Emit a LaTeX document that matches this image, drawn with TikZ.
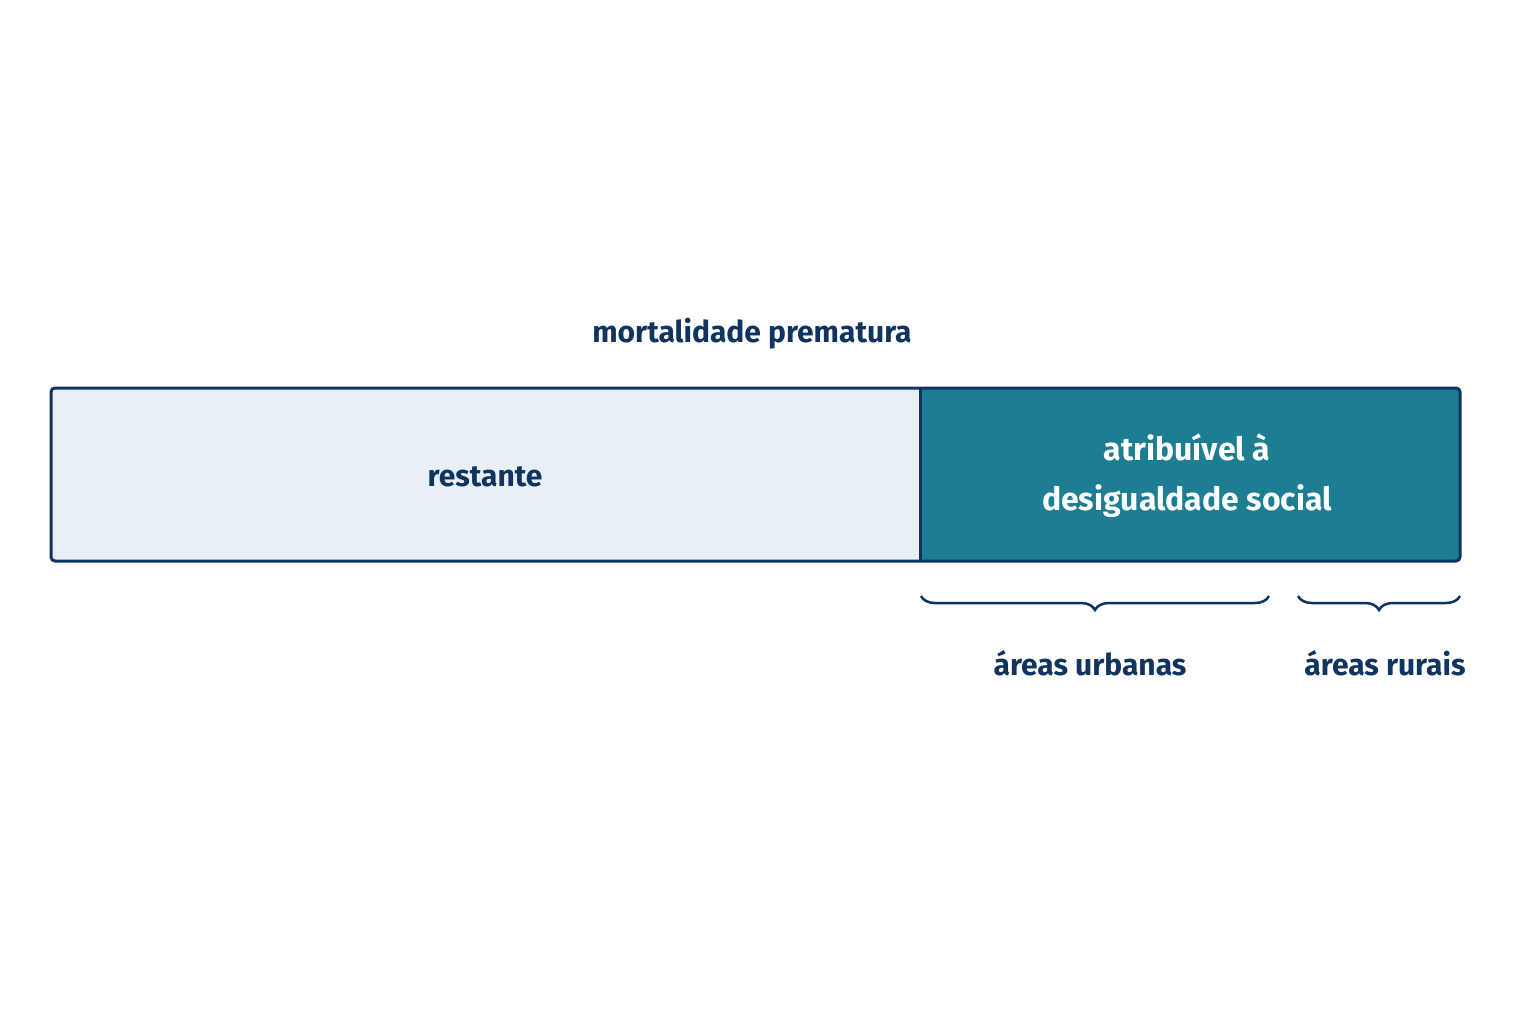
\documentclass[tikz,border=0pt]{standalone}
\usepackage{fontspec}
\setmainfont{Fira Sans}
\usetikzlibrary{decorations.pathreplacing}
\definecolor{navy}{HTML}{0F3460}
\definecolor{lite}{HTML}{E8F0F6}
\definecolor{teal}{HTML}{1C7D93}
\begin{document}
\begin{tikzpicture}[x=1pt,y=-1pt,
  lbl/.style={text=navy,font=\fontsize{30}{36}\selectfont\bfseries},
  brc/.style={draw=navy,line width=2.5pt,decorate,decoration={brace,mirror,amplitude=14pt}}]
\useasboundingbox[fill=white] (0,0) rectangle (1536,1024);
\fill[lite] (51,388) rectangle (920,561);
\fill[teal] (920,388) rectangle (1460,561);
\draw[navy,line width=3pt,rounded corners=4pt] (51,388) rectangle (1460,561);
\draw[navy,line width=3pt] (920,388) -- (920,561);
\node[lbl] (t) at (752,334) {mortalidade prematura};
\node[lbl] (r) at (485,477) {restante};
\node[lbl,text=white,align=center,font=\fontsize{32}{50}\selectfont\bfseries] (d) at (1187,476) {atribuível à\\desigualdade social};
\coordinate (a1) at (921,596); \coordinate (a2) at (1269,596);
\coordinate (b1) at (1298,596); \coordinate (b2) at (1460,596);
\draw[brc] (a1) -- (a2);
\draw[brc] (b1) -- (b2);
\node[lbl] (u) at (1090,663) {áreas urbanas};
\node[lbl] (ru) at (1385,663) {áreas rurais};
\end{tikzpicture}
\end{document}
